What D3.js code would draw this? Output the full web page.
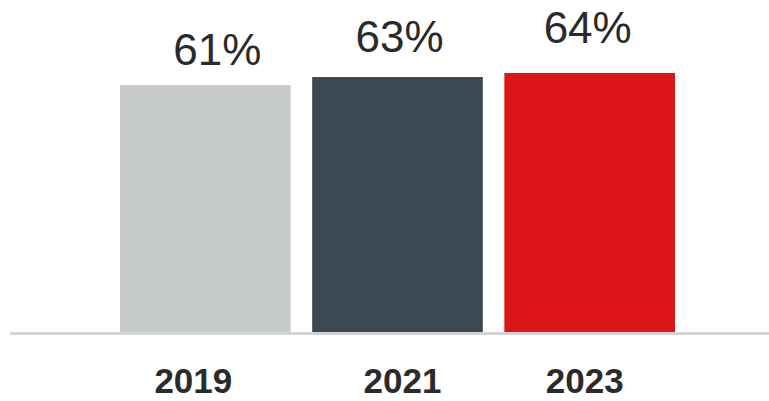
<!DOCTYPE html>
<html>
<head>
<meta charset="utf-8">
<script src="https://cdn.jsdelivr.net/npm/d3@7"></script>
<style>
  html, body { margin: 0; padding: 0; background: #fff; }
  svg { display: block; }
</style>
</head>
<body>
<svg id="chart"></svg>
<script>
(function () {
  'use strict';

  // ---- Data ----
  const years = ['2019', '2021', '2023'];
  const shares = [61, 63, 64];
  const barColors = ['#c6cbca', '#3c4952', '#dc1519'];

  // ---- Layout ----
  const width = 769;
  const height = 401;
  const baseY = 332;
  // the source labels are not quite centred on their bars
  const valueNudge = [12, 2, -2];
  const yearNudge = [-12, 5, -5];

  const svg = d3.select('#chart').attr('width', width).attr('height', height);

  // Scales
  const x = d3.scaleBand().domain(years).range([120, 675]).paddingInner(0.112).paddingOuter(0);
  const y = d3.scaleLinear().domain([0, 64]).range([baseY, 73]);

  function center(i) {
    return x(years[i]) + x.bandwidth() / 2;
  }

  // Baseline
  svg.append('line')
    .attr('x1', 10).attr('x2', width)
    .attr('y1', baseY + 1.5).attr('y2', baseY + 1.5)
    .attr('stroke', '#d4d4d4')
    .attr('stroke-width', 3);

  // Bars
  svg.append('g').selectAll('rect')
    .data(shares)
    .enter()
    .append('rect')
    .attr('x', function (d, i) { return x(years[i]); })
    .attr('y', function (d) { return y(d); })
    .attr('width', x.bandwidth())
    .attr('height', function (d) { return baseY - y(d); })
    .attr('fill', function (d, i) { return barColors[i]; });

  // Value labels (gap grows a little with each bar, as in the source)
  svg.append('g').selectAll('text')
    .data(shares)
    .enter()
    .append('text')
    .text(function (d) { return d + '%'; })
    .attr('x', function (d, i) { return center(i) + valueNudge[i]; })
    .attr('y', function (d, i) { return y(d) - 20 - 5 * i; })
    .attr('text-anchor', 'middle')
    .attr('font-family', "'Liberation Sans', Arial, sans-serif")
    .attr('font-size', 44)
    .attr('fill', '#2a2a2a');

  // Category labels
  svg.append('g').selectAll('text')
    .data(years)
    .enter()
    .append('text')
    .text(function (d) { return d; })
    .attr('x', function (d, i) { return center(i) + yearNudge[i]; })
    .attr('y', 393)
    .attr('text-anchor', 'middle')
    .attr('font-family', "'Liberation Sans', Arial, sans-serif")
    .attr('font-weight', 'bold')
    .attr('font-size', 35)
    .attr('fill', '#2b2b2b');
})();
</script>
</body>
</html>
